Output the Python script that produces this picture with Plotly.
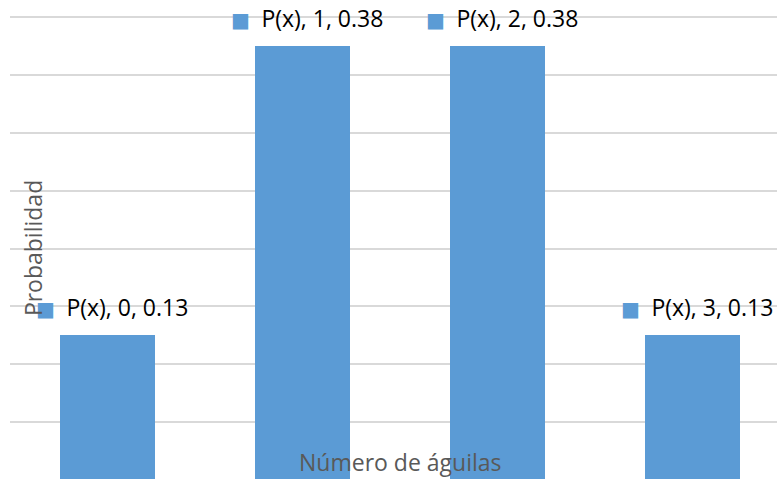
import plotly.graph_objects as go
from decimal import Decimal, ROUND_HALF_UP

categories = [0, 1, 2, 3]
probabilities = [0.125, 0.375, 0.375, 0.125]
series_name = "P(x)"
x_title = "Número de águilas"
y_title = "Probabilidad"

BAR_COLOR = "#5B9BD5"
FONT = "Open Sans"


def fmt(v):
    return str(Decimal(str(v)).quantize(Decimal("0.01"), rounding=ROUND_HALF_UP))


fig = go.Figure()
fig.add_trace(go.Bar(
    x=categories, y=probabilities, name=series_name,
    marker=dict(color=BAR_COLOR, line=dict(width=0)),
    width=0.487,
))

annotations = []
for c, p in zip(categories, probabilities):
    annotations.append(dict(
        x=c, y=p, xref="x", yref="y",
        text=(f"<span style='color:{BAR_COLOR};font-size:20px;font-family:DejaVu Sans'>■</span>"
              f"&#8194;{series_name}, {c}, {fmt(p)}"),
        showarrow=False, xanchor="center", yanchor="middle",
        xshift=4, yshift=28,
        font=dict(family=FONT, size=23, color="#000000"),
    ))

annotations.append(dict(
    x=(400 - 10) / 767, y=0.035, xref="paper", yref="paper", text=x_title, showarrow=False,
    xanchor="center", yanchor="middle",
    font=dict(family=FONT, size=23, color="#595959"),
))
annotations.append(dict(
    x=(33 - 10) / 767, y=0.482, xref="paper", yref="paper", text=y_title, showarrow=False,
    xanchor="center", yanchor="middle", textangle=-90,
    font=dict(family=FONT, size=23, color="#595959"),
))

fig.update_layout(
    width=777, height=479,
    margin=dict(l=10, r=0, t=0, b=0),
    plot_bgcolor="white", paper_bgcolor="white",
    showlegend=False,
    bargap=0,
    hovermode=False,
    xaxis=dict(range=[-0.5, -0.5 + 767 / 195], showticklabels=False, showgrid=False,
               zeroline=False, showline=False, ticks=""),
    yaxis=dict(range=[0.0009, 0.4147], dtick=0.05, tick0=0, showticklabels=False,
               showgrid=True, gridcolor="#D9D9D9", gridwidth=1.5,
               zeroline=False, showline=False, ticks=""),
    annotations=annotations,
)

fig.write_html(
    "out.html",
    config={"displayModeBar": False},
    post_script="document.body.style.margin='0';document.body.style.overflow='hidden';",
)
